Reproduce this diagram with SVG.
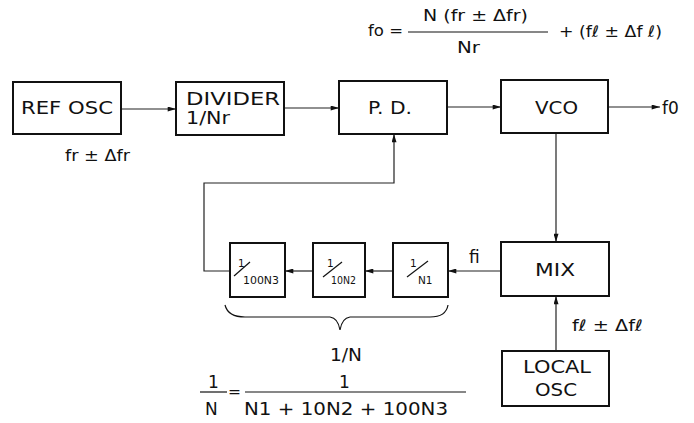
<svg xmlns="http://www.w3.org/2000/svg" width="694" height="423" viewBox="0 0 694 423">
<defs>
<marker id="ah" viewBox="0 0 10 6" refX="10" refY="3" markerWidth="9" markerHeight="5" markerUnits="userSpaceOnUse" orient="auto">
<path d="M0,0 L10,3 L0,6 Z" fill="#111"/>
</marker>
</defs>
<style>
.box{fill:#fff;stroke:#111;stroke-width:2}
.t{font-family:"DejaVu Sans","Liberation Sans",Arial,sans-serif;fill:#111}
.lbl{font-size:17px}
.eq{font-size:15.5px}
.sm{font-size:10.5px}
.ln{stroke:#222;stroke-width:1.2;fill:none}
.fb{stroke:#111;stroke-width:1.2}
</style>
<rect width="694" height="423" fill="#fff"/>

<g id="formula-top">
<text class="t eq" x="368" y="36" textLength="35" lengthAdjust="spacingAndGlyphs">fo =</text>
<text class="t eq" x="423" y="21" textLength="105" lengthAdjust="spacingAndGlyphs">N (fr ± Δfr)</text>
<line class="fb" x1="408" y1="32" x2="548" y2="32"/>
<text class="t eq" x="457" y="53" textLength="23" lengthAdjust="spacingAndGlyphs">Nr</text>
<text class="t eq" x="559" y="37" textLength="103" lengthAdjust="spacingAndGlyphs">+ (fℓ ± Δf ℓ)</text>
</g>

<g id="connectors">
<line class="ln" x1="121" y1="109" x2="176" y2="109" marker-end="url(#ah)"/>
<line class="ln" x1="284" y1="108" x2="339" y2="108" marker-end="url(#ah)"/>
<line class="ln" x1="447" y1="107" x2="501" y2="107" marker-end="url(#ah)"/>
<line class="ln" x1="608" y1="107" x2="660" y2="107" marker-end="url(#ah)"/>
<line class="ln" x1="556" y1="133" x2="556" y2="242" marker-end="url(#ah)"/>
<line class="ln" x1="556" y1="351" x2="556" y2="296" marker-end="url(#ah)"/>
<line class="ln" x1="501" y1="271" x2="448" y2="271" marker-end="url(#ah)"/>
<line class="ln" x1="393" y1="271" x2="365" y2="271" marker-end="url(#ah)"/>
<line class="ln" x1="313" y1="271" x2="285" y2="271" marker-end="url(#ah)"/>
<polyline class="ln" points="230,271 204,271 204,183 394,183 394,134" marker-end="url(#ah)"/>
</g>

<g id="ref-osc">
<rect class="box" x="13" y="82" width="108" height="52"/>
<text class="t lbl" x="21" y="114" textLength="92" lengthAdjust="spacingAndGlyphs">REF OSC</text>
<text class="t eq" x="65" y="161" textLength="65" lengthAdjust="spacingAndGlyphs">fr ± Δfr</text>
</g>

<g id="divider">
<rect class="box" x="176" y="82" width="108" height="53"/>
<text class="t lbl" x="186" y="105" textLength="94" lengthAdjust="spacingAndGlyphs">DIVIDER</text>
<text class="t lbl" x="186" y="124" textLength="44" lengthAdjust="spacingAndGlyphs">1/Nr</text>
</g>

<g id="pd">
<rect class="box" x="339" y="81" width="108" height="53"/>
<text class="t lbl" x="368" y="114" textLength="44" lengthAdjust="spacingAndGlyphs">P. D.</text>
</g>

<g id="vco">
<rect class="box" x="501" y="80" width="107" height="53"/>
<text class="t lbl" x="535" y="114" textLength="43" lengthAdjust="spacingAndGlyphs">VCO</text>
<text class="t lbl" x="662" y="114">f0</text>
</g>

<g id="mix">
<rect class="box" x="501" y="242" width="108" height="54"/>
<text class="t lbl" x="535" y="276" textLength="40" lengthAdjust="spacingAndGlyphs">MIX</text>
<text class="t lbl" x="469" y="263">fi</text>
</g>

<g id="local-osc">
<rect class="box" x="502" y="351" width="107" height="55"/>
<text class="t lbl" x="523" y="373" textLength="68" lengthAdjust="spacingAndGlyphs">LOCAL</text>
<text class="t lbl" x="535" y="396" textLength="42" lengthAdjust="spacingAndGlyphs">OSC</text>
<text class="t eq" x="572" y="331" textLength="71" lengthAdjust="spacingAndGlyphs">fℓ ± Δfℓ</text>
</g>

<g id="div-n1">
<rect class="box" x="393" y="243" width="55" height="54"/>
<text class="t sm" x="410" y="267">1</text>
<line class="fb" x1="407" y1="277" x2="428" y2="261"/>
<text class="t sm" x="418" y="284">N1</text>
</g>

<g id="div-10n2">
<rect class="box" x="313" y="243" width="52" height="54"/>
<text class="t sm" x="327" y="267">1</text>
<line class="fb" x1="323" y1="277" x2="342" y2="262"/>
<text class="t sm" x="331" y="284" textLength="25" lengthAdjust="spacingAndGlyphs">10N2</text>
</g>

<g id="div-100n3">
<rect class="box" x="230" y="243" width="55" height="54"/>
<text class="t sm" x="238" y="267">1</text>
<line class="fb" x1="234" y1="276" x2="250" y2="262"/>
<text class="t sm" x="243" y="284" textLength="36" lengthAdjust="spacingAndGlyphs">100N3</text>
</g>

<g id="brace">
<path class="fb" fill="none" d="M225,305 Q228,317 245,317 L330,317 Q338,318 340,330 Q342,318 350,317 L430,317 Q446,317 448,305"/>
<text class="t lbl" x="330" y="361" textLength="32" lengthAdjust="spacingAndGlyphs">1/N</text>
</g>

<g id="formula-bottom">
<text class="t lbl" x="208" y="388">1</text>
<line class="fb" x1="200" y1="392" x2="227" y2="392"/>
<text class="t lbl" x="205" y="415">N</text>
<text class="t eq" x="228" y="397">=</text>
<line class="fb" x1="245" y1="392" x2="466" y2="392"/>
<text class="t lbl" x="339" y="388">1</text>
<text class="t lbl" x="244" y="415" textLength="204" lengthAdjust="spacingAndGlyphs">N1 + 10N2 + 100N3</text>
</g>
</svg>
